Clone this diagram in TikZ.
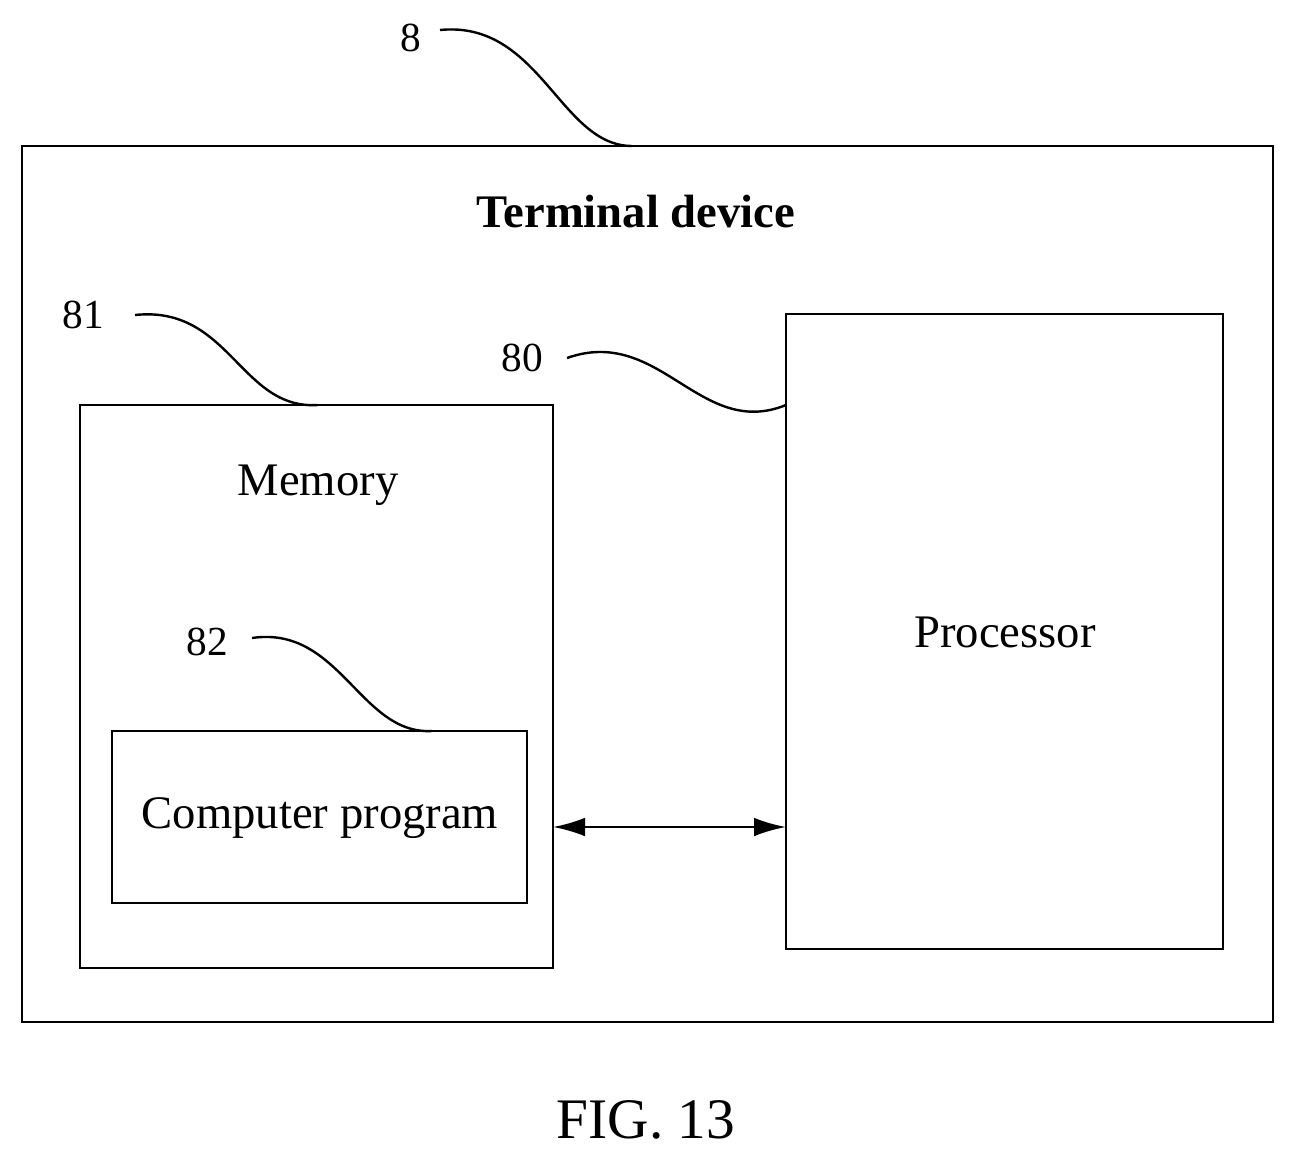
\documentclass[tikz,border=0pt]{standalone}
\usepackage{fontspec}
\setmainfont{Liberation Serif}
\usetikzlibrary{arrows.meta}
\begin{document}
\begin{tikzpicture}[x=0.75pt,y=-0.75pt,
  box/.style={draw,line width=2pt},
  lead/.style={line width=1.8pt},
  lbl/.style={font=\fontsize{31}{37}\selectfont},
  txt/.style={font=\fontsize{35}{42}\selectfont}]
\useasboundingbox (0,0) rectangle (1295,1160);
\draw[box] (22,146) rectangle (1273,1022);
\draw[box] (80,405) rectangle (553,968);
\draw[box] (112,731) rectangle (527,903);
\draw[box] (786,314) rectangle (1223,949);
\node[font=\fontsize{35}{42}\selectfont\bfseries] (td) at (636,212) {Terminal device};
\node[txt] (mem) at (318,485) {Memory};
\node[txt] (cp) at (320,818) {Computer program};
\node[txt] (proc) at (1005,632) {Processor};
\node[font=\fontsize{43}{50}\selectfont] (fig) at (646,1120) {FIG. 13};
\node[lbl] (l8) at (411,38) {8};
\node[lbl] (l81) at (83,315) {81};
\node[lbl] (l80) at (522,358) {80};
\node[lbl] (l82) at (207,642) {82};
\coordinate (a8) at (632,146);
\coordinate (a81) at (318,405);
\coordinate (a80) at (786,405);
\coordinate (a82) at (432,731);
\draw[lead] (440,30) .. controls (540,20) and (560,146) .. (a8);
\draw[lead] (135,315) .. controls (230,305) and (240,410) .. (a81);
\draw[lead] (567,358) .. controls (660,325) and (700,440) .. (a80);
\draw[lead] (252,638) .. controls (340,625) and (360,735) .. (a82);
\coordinate (pl) at (553,827);
\coordinate (pr) at (786,827);
\draw[line width=1.8pt,{Latex[length=24pt,width=14pt]}-{Latex[length=24pt,width=14pt]}] (pl) -- (pr);
\end{tikzpicture}
\end{document}
